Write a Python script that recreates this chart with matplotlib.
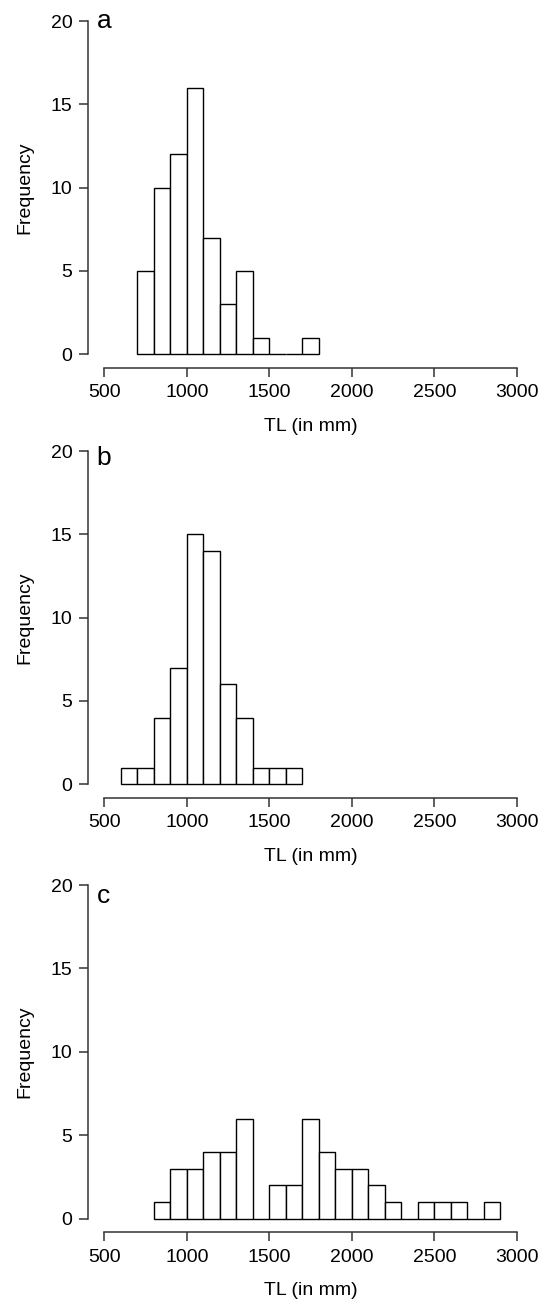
import matplotlib
matplotlib.use("Agg")
import matplotlib.pyplot as plt
import numpy as np

plt.rcParams["font.family"] = ["Liberation Sans", "DejaVu Sans"]

# ---- data (bin left edges, width 100 mm, and counts) ----
bins_a = np.arange(700, 1800, 100)
counts_a = [5, 10, 12, 16, 7, 3, 5, 1, 0, 0, 1]

bins_b = np.arange(600, 1700, 100)
counts_b = [1, 1, 4, 7, 15, 14, 6, 4, 1, 1, 1]

bins_c = np.arange(800, 2900, 100)
counts_c = [1, 3, 3, 4, 4, 6, 0, 2, 2, 6, 4, 3, 3, 2, 1, 0, 1, 1, 1, 0, 1]

panel_letters = ["a", "b", "c"]
x_ticks = [500, 1000, 1500, 2000, 2500, 3000]
y_ticks = [0, 5, 10, 15, 20]

# ---- layout ----
fig = plt.figure(figsize=(5.46, 13.02), dpi=100)
axes_rects = [
    [0.1608, 0.7177, 0.8163, 0.2764],
    [0.1608, 0.3874, 0.8163, 0.2764],
    [0.1608, 0.0538, 0.8163, 0.2767],
]
letter_y = [0.943, 0.924, 0.912]

panels = [(bins_a, counts_a), (bins_b, counts_b), (bins_c, counts_c)]
axis_col = "#333333"

for i, (edges, counts) in enumerate(panels):
    ax = fig.add_axes(axes_rects[i])
    ax.bar(edges, counts, width=100, align="edge",
           facecolor="white", edgecolor="black", linewidth=1.0)

    # R-style axes: 4% padding, detached spines spanning the ticks
    ax.set_xlim(400, 3100)
    ax.set_ylim(-0.8, 20.8)
    ax.spines["top"].set_visible(False)
    ax.spines["right"].set_visible(False)
    ax.spines["left"].set_bounds(0, 20)
    ax.spines["bottom"].set_bounds(500, 3000)
    for s in ("left", "bottom"):
        ax.spines[s].set_linewidth(1.1)
        ax.spines[s].set_color(axis_col)

    ax.set_xticks(x_ticks)
    ax.set_yticks(y_ticks)
    ax.tick_params(axis="both", length=6.5, width=1.1, color=axis_col,
                   labelsize=14)
    ax.tick_params(axis="y", pad=4.5)
    ax.tick_params(axis="x", pad=5.5)

    ax.set_xlabel("TL (in mm)", fontsize=14)
    ax.set_ylabel("Frequency", fontsize=14)
    ax.xaxis.set_label_coords(0.5, -0.140)
    ax.yaxis.set_label_coords(-0.122, 0.5)

    ax.text(0.0195, letter_y[i], panel_letters[i], transform=ax.transAxes,
            fontsize=19, ha="left", va="baseline")

fig.savefig("out.png", dpi=100)
plt.close(fig)
